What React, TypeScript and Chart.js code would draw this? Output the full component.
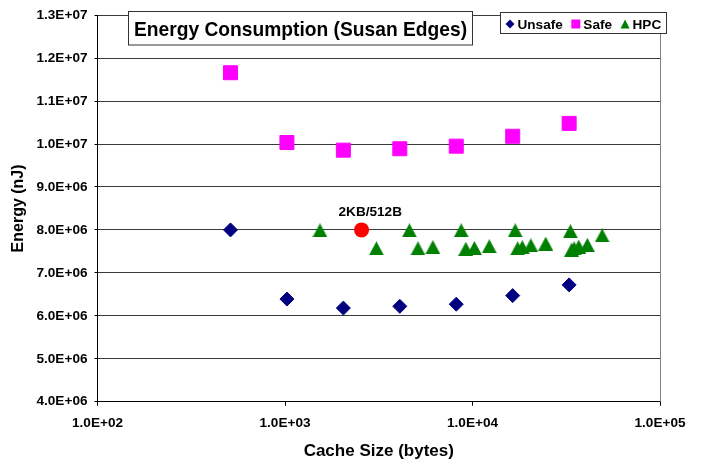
import React, { useEffect, useRef } from "react";
import { Chart, registerables } from "chart.js";

Chart.register(...registerables);

const FONT = "'Liberation Sans', Arial, Helvetica, sans-serif";

const chartTitle = "Energy Consumption (Susan Edges)";
const xAxisTitle = "Cache Size (bytes)";
const yAxisTitle = "Energy (nJ)";
const seriesNames = ["Unsafe", "Safe", "HPC"];

const cacheSizes = [512, 1024, 2048, 4096, 8192, 16384, 32768];
const unsafeEnergy = [8.0e6, 6.39e6, 6.18e6, 6.22e6, 6.27e6, 6.47e6, 6.72e6];
const safeEnergy = [1.166e7, 1.0035e7, 0.9857e7, 0.989e7, 0.995e7, 1.018e7, 1.048e7];

const hpcSizes = [
  1536, 3072, 4608, 5120, 6144, 8704, 9216, 10240, 12288, 16896, 17408, 18432,
  20480, 24576, 33280, 33792, 34816, 36864, 40960, 49152,
];
const hpcEnergy = [
  7.99e6, 7.57e6, 7.99e6, 7.57e6, 7.6e6, 7.99e6, 7.56e6, 7.58e6, 7.62e6, 7.99e6,
  7.57e6, 7.6e6, 7.64e6, 7.68e6, 7.97e6, 7.54e6, 7.57e6, 7.61e6, 7.65e6, 7.87e6,
];

const highlightSize = [2560];
const highlightEnergy = [8.0e6];
const highlightLabel = "2KB/512B";

const xTickValues = [1e2, 1e3, 1e4, 1e5];
const yTickValues = [4e6, 5e6, 6e6, 7e6, 8e6, 9e6, 1e7, 1.1e7, 1.2e7, 1.3e7];

const COLORS = {
  unsafe: "#000080",
  safe: "#FF00FF",
  hpc: "#008000",
  highlight: "#FF0000",
};

function sci(v: number): string {
  const [m, e] = v.toExponential(1).split("e");
  const sign = e[0] === "-" ? "-" : "+";
  const digits = e.replace(/^[+-]/, "").padStart(2, "0");
  return `${m}E${sign}${digits}`;
}

function makeTriangle(w: number, h: number, color: string): HTMLCanvasElement {
  const c = document.createElement("canvas");
  c.width = w;
  c.height = h;
  const g = c.getContext("2d")!;
  g.fillStyle = color;
  g.beginPath();
  g.moveTo(w / 2, 0);
  g.lineTo(w, h);
  g.lineTo(0, h);
  g.closePath();
  g.fill();
  return c;
}

const overlayPlugin = {
  id: "overlay",
  beforeDatasetsDraw(chart: any) {
    const { ctx, chartArea: a } = chart;
    ctx.save();
    ctx.strokeStyle = "#808080";
    ctx.lineWidth = 1;
    const x = Math.round(a.right) + 0.5;
    ctx.beginPath();
    ctx.moveTo(x, a.top);
    ctx.lineTo(x, a.bottom);
    ctx.stroke();
    ctx.restore();
  },
  afterDraw(chart: any) {
    const { ctx } = chart;
    ctx.save();

    // Title box
    ctx.fillStyle = "#FFFFFF";
    ctx.fillRect(128.5, 11.5, 344, 33.5);
    ctx.strokeStyle = "#333333";
    ctx.lineWidth = 1;
    ctx.strokeRect(128.5, 11.5, 344, 33.5);
    ctx.fillStyle = "#000000";
    ctx.textAlign = "center";
    ctx.textBaseline = "alphabetic";
    ctx.save();
    ctx.translate(300.5, 36);
    ctx.scale(0.915, 1);
    ctx.font = `bold 21px ${FONT}`;
    ctx.fillText(chartTitle, 0, 0);
    ctx.restore();

    // Legend box
    ctx.fillStyle = "#FFFFFF";
    ctx.fillRect(500.5, 12.5, 166, 21);
    ctx.strokeStyle = "#333333";
    ctx.strokeRect(500.5, 12.5, 166, 21);
    ctx.font = `bold 13.6px ${FONT}`;
    ctx.textAlign = "left";
    let x = 505.5;
    const cy = 24;
    const items = chart.data.datasets.slice(0, 3);
    items.forEach((ds: any, i: number) => {
      ctx.fillStyle = ds.backgroundColor;
      ctx.beginPath();
      if (i === 0) {
        ctx.moveTo(x + 4.5, cy - 4.5);
        ctx.lineTo(x + 9, cy);
        ctx.lineTo(x + 4.5, cy + 4.5);
        ctx.lineTo(x, cy);
      } else if (i === 1) {
        ctx.rect(x, cy - 4.5, 9, 9);
      } else {
        ctx.moveTo(x + 4.5, cy - 4.5);
        ctx.lineTo(x + 9, cy + 4.5);
        ctx.lineTo(x, cy + 4.5);
      }
      ctx.closePath();
      ctx.fill();
      x += 12;
      ctx.fillStyle = "#000000";
      ctx.fillText(ds.label, x, 29);
      x += ctx.measureText(ds.label).width + 8.5;
    });

    // Annotation
    const px = chart.scales.x.getPixelForValue(highlightSize[0]);
    const py = chart.scales.y.getPixelForValue(highlightEnergy[0]);
    ctx.textAlign = "center";
    ctx.fillStyle = "#000000";
    ctx.font = `bold 13.6px ${FONT}`;
    ctx.fillText(highlightLabel, px + 8.7, py - 14.3);

    ctx.restore();
  },
};

export default function App() {
  const canvasRef = useRef<HTMLCanvasElement | null>(null);

  useEffect(() => {
    document.body.style.margin = "0";
    const canvas = canvasRef.current;
    if (!canvas) return;
    const tri = makeTriangle(15, 14, COLORS.hpc);

    const chart = new Chart(canvas, {
      type: "scatter",
      data: {
        datasets: [
          {
            label: seriesNames[0],
            data: cacheSizes.map((s, i) => ({ x: s, y: unsafeEnergy[i] })),
            backgroundColor: COLORS.unsafe,
            borderColor: COLORS.unsafe,
            borderWidth: 1,
            pointStyle: "rectRot",
            pointRadius: 7,
          },
          {
            label: seriesNames[1],
            data: cacheSizes.map((s, i) => ({ x: s, y: safeEnergy[i] })),
            backgroundColor: COLORS.safe,
            borderColor: COLORS.safe,
            borderWidth: 1,
            pointStyle: "rect",
            pointRadius: 9.9,
          },
          {
            label: seriesNames[2],
            data: hpcSizes.map((s, i) => ({ x: s, y: hpcEnergy[i] })),
            backgroundColor: COLORS.hpc,
            borderColor: COLORS.hpc,
            pointStyle: tri as any,
            pointRadius: 8,
          },
          {
            label: highlightLabel,
            data: highlightSize.map((s, i) => ({ x: s, y: highlightEnergy[i] })),
            backgroundColor: COLORS.highlight,
            borderColor: COLORS.highlight,
            borderWidth: 0,
            pointStyle: "circle",
            pointRadius: 7.5,
          },
        ],
      },
      options: {
        responsive: false,
        animation: false,
        events: [],
        layout: { padding: { top: 12.7, right: 42, bottom: 0, left: 0 } },
        plugins: {
          legend: { display: false },
          tooltip: { enabled: false },
          title: { display: false },
        },
        scales: {
          x: {
            type: "logarithmic",
            min: 100,
            max: 100000,
            afterBuildTicks: (s: any) => {
              s.ticks = xTickValues.map((v) => ({ value: v }));
            },
            afterFit: (s: any) => {
              s.height = 60.3;
            },
            ticks: {
              callback: (v: any) => sci(Number(v)),
              font: { family: FONT, size: 13.6, weight: "bold" },
              color: "#000000",
              padding: 9,
              maxRotation: 0,
              autoSkip: false,
            },
            grid: {
              display: true,
              drawOnChartArea: false,
              drawTicks: true,
              tickLength: 4,
              tickColor: "#000000",
            },
            border: { display: true, color: "#000000", width: 1 },
            title: {
              display: true,
              text: xAxisTitle,
              font: { family: FONT, size: 17, weight: "bold" },
              color: "#000000",
              padding: { top: 5.8, bottom: 0 },
            },
          },
          y: {
            type: "linear",
            min: 4e6,
            max: 1.3e7,
            afterBuildTicks: (s: any) => {
              s.ticks = yTickValues.map((v) => ({ value: v }));
            },
            afterFit: (s: any) => {
              s.width = 97.5;
            },
            ticks: {
              callback: (v: any) => sci(Number(v)),
              font: { family: FONT, size: 13.6, weight: "bold" },
              color: "#000000",
              padding: 7,
              autoSkip: false,
            },
            grid: {
              display: true,
              drawOnChartArea: true,
              drawTicks: true,
              tickLength: 3,
              color: "#3a3a3a",
              tickColor: "#000000",
            },
            border: { display: true, color: "#000000", width: 1 },
            title: {
              display: true,
              text: yAxisTitle,
              font: { family: FONT, size: 16, weight: "bold" },
              color: "#000000",
              padding: { top: 9.4, bottom: 0 },
            },
          },
        },
      },
      plugins: [overlayPlugin],
    } as any);

    return () => {
      chart.destroy();
    };
  }, []);

  return (
    <div style={{ width: 702, height: 462 }}>
      <canvas ref={canvasRef} width={702} height={462} style={{ width: 702, height: 462, display: "block" }} />
    </div>
  );
}
